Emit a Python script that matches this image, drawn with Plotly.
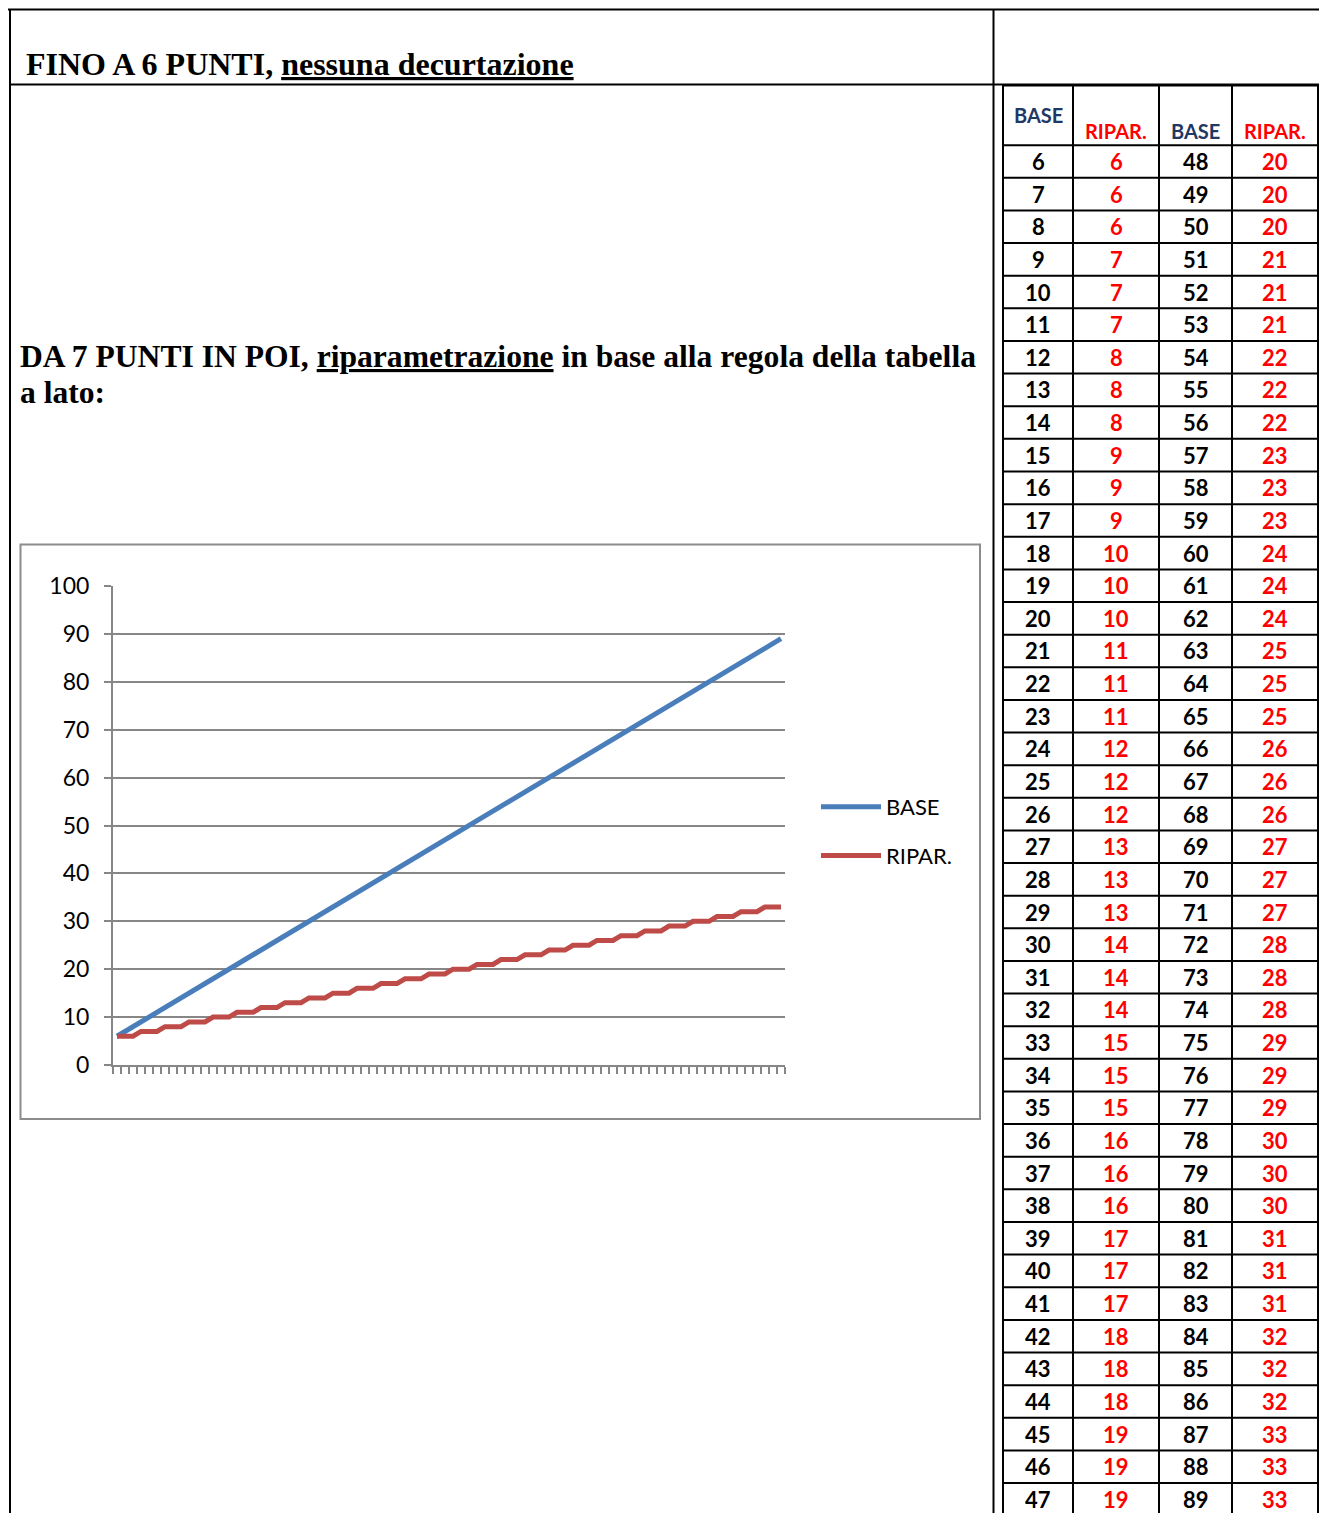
import plotly.graph_objects as go

W, H = 1327, 1513
OFF = 8  # page offset of the figure div (body margin)

# ---------------- data ----------------
base_left = [6, 7, 8, 9, 10, 11, 12, 13, 14, 15, 16, 17, 18, 19, 20, 21, 22, 23, 24, 25, 26,
             27, 28, 29, 30, 31, 32, 33, 34, 35, 36, 37, 38, 39, 40, 41, 42, 43, 44, 45, 46, 47]
ripar_left = [6, 6, 6, 7, 7, 7, 8, 8, 8, 9, 9, 9, 10, 10, 10, 11, 11, 11, 12, 12, 12,
              13, 13, 13, 14, 14, 14, 15, 15, 15, 16, 16, 16, 17, 17, 17, 18, 18, 18, 19, 19, 19]
base_right = [48, 49, 50, 51, 52, 53, 54, 55, 56, 57, 58, 59, 60, 61, 62, 63, 64, 65, 66, 67, 68,
              69, 70, 71, 72, 73, 74, 75, 76, 77, 78, 79, 80, 81, 82, 83, 84, 85, 86, 87, 88, 89]
ripar_right = [20, 20, 20, 21, 21, 21, 22, 22, 22, 23, 23, 23, 24, 24, 24, 25, 25, 25, 26, 26, 26,
               27, 27, 27, 28, 28, 28, 29, 29, 29, 30, 30, 30, 31, 31, 31, 32, 32, 32, 33, 33, 33]
header_labels = ["BASE", "RIPAR.", "BASE", "RIPAR."]
y_ticks = [0, 10, 20, 30, 40, 50, 60, 70, 80, 90, 100]
series_names = ["BASE", "RIPAR."]

base_all = base_left + base_right
ripar_all = ripar_left + ripar_right

# ---------------- helpers (page pixel -> paper fraction) ----------------
def px(x):
    return (x - OFF) / W

def py(y):
    return 1 - (y - OFF) / H

BLUE = "#4A7EBB"
RED_LINE = "#BE4B48"
GRID = "#868686"
RED_TXT = "#FF0000"
NAVY = "#1F3864"

fig = go.Figure()
fig.add_trace(go.Scatter(x=base_all, y=base_all, mode="lines", name=series_names[0],
                         line=dict(color=BLUE, width=5), legendgroup="a"))
fig.add_trace(go.Scatter(x=base_all, y=ripar_all, mode="lines", name=series_names[1],
                         line=dict(color=RED_LINE, width=5), legendgroup="b"))

tickpos = [b - 0.5 for b in base_all] + [base_all[-1] + 0.5]

shapes = []
def hline(x0, x1, y, w=2, c="black"):
    shapes.append(dict(type="line", xref="paper", yref="paper", x0=px(x0), x1=px(x1),
                       y0=py(y), y1=py(y), line=dict(color=c, width=w)))
def vline(x, y0, y1, w=2, c="black"):
    shapes.append(dict(type="line", xref="paper", yref="paper", x0=px(x), x1=px(x),
                       y0=py(y0), y1=py(y1), line=dict(color=c, width=w)))

# document frame
hline(8, W, 9.5)
hline(9, W, 84.5)
vline(10, 9, H)
vline(993.5, 9, H)

# table grid
col_edges = [1003, 1073, 1159, 1232, 1318]
row0 = 145.2
row_h = 32.63
for xe in col_edges:
    vline(xe, 85, H)
hline(1003, 1318, 85.5)
for k in range(len(base_left) + 1):
    hline(1003, 1318, row0 + k * row_h)

# chart frame
shapes.append(dict(type="rect", xref="paper", yref="paper", x0=px(20.5), x1=px(980),
                   y0=py(1119), y1=py(544.5), line=dict(color="#8C8C8C", width=2),
                   layer="below"))

annotations = []
TNR = "Liberation Serif"
annotations.append(dict(xref="paper", yref="paper", x=px(24), y=py(64), xanchor="left",
                        yanchor="middle", showarrow=False,
                        text="<b>FINO A 6 PUNTI, <u>nessuna decurtazione</u></b>",
                        font=dict(family=TNR, size=32, color="black")))
annotations.append(dict(xref="paper", yref="paper", x=px(18), y=py(357), xanchor="left",
                        yanchor="middle", showarrow=False,
                        text="<b>DA 7 PUNTI IN POI, <u>riparametrazione</u> in base alla regola della tabella</b>",
                        font=dict(family=TNR, size=31.6, color="black")))
annotations.append(dict(xref="paper", yref="paper", x=px(18), y=py(392), xanchor="left",
                        yanchor="middle", showarrow=False,
                        text="<b>a lato:</b>",
                        font=dict(family=TNR, size=31.6, color="black")))

# table header
col_centers = [(col_edges[i] + col_edges[i + 1]) / 2 for i in range(4)]
hdr_y = [115, 131, 131, 131]
hdr_c = [NAVY, RED_TXT, NAVY, RED_TXT]
for i, lab in enumerate(header_labels):
    annotations.append(dict(xref="paper", yref="paper", x=px(col_centers[i]), y=py(hdr_y[i]),
                            xanchor="center", yanchor="middle", showarrow=False,
                            text="<b>%s</b>" % lab,
                            font=dict(family="Lato", size=20, color=hdr_c[i])))
cols = [base_left, ripar_left, base_right, ripar_right]
col_colors = ["black", RED_TXT, "black", RED_TXT]
for ci, col in enumerate(cols):
    for k, v in enumerate(col):
        yc = row0 + row_h * (k + 0.5)
        annotations.append(dict(xref="paper", yref="paper", x=px(col_centers[ci]), y=py(yc),
                                xanchor="center", yanchor="middle", showarrow=False,
                                text="<b>%d</b>" % v,
                                font=dict(family="Lato", size=22, color=col_colors[ci])))

fig.update_layout(
    width=W, height=H, autosize=False,
    margin=dict(l=0, r=0, t=0, b=0, autoexpand=False),
    paper_bgcolor="white", plot_bgcolor="white",
    shapes=shapes, annotations=annotations,
    showlegend=True,
    legend=dict(x=px(816), y=py(786), xanchor="left", yanchor="top",
                font=dict(family="Lato", size=22, color="black"),
                itemwidth=60, tracegroupgap=17, traceorder="grouped",
                bgcolor="rgba(0,0,0,0)"),
    xaxis=dict(domain=[px(113), px(785)], range=[base_all[0] - 0.5, base_all[-1] + 0.5],
               tickmode="array", tickvals=tickpos, ticktext=[""] * len(tickpos),
               ticks="outside", ticklen=7, tickwidth=1.5, tickcolor=GRID,
               showgrid=False, zeroline=False, showline=True, linecolor=GRID, linewidth=2,
               fixedrange=True, automargin=False),
    yaxis=dict(domain=[py(1065), py(586)], range=[0, 100], tickmode="array",
               tickvals=y_ticks, ticks="outside", ticklen=7, tickwidth=2, tickcolor=GRID,
               showgrid=True, gridcolor=GRID, gridwidth=2, zeroline=False,
               showline=True, linecolor=GRID, linewidth=2, ticklabelstandoff=10,
               tickfont=dict(family="Lato", size=23, color="black"), fixedrange=True,
               automargin=False),
)

fig.write_html("out.html")
